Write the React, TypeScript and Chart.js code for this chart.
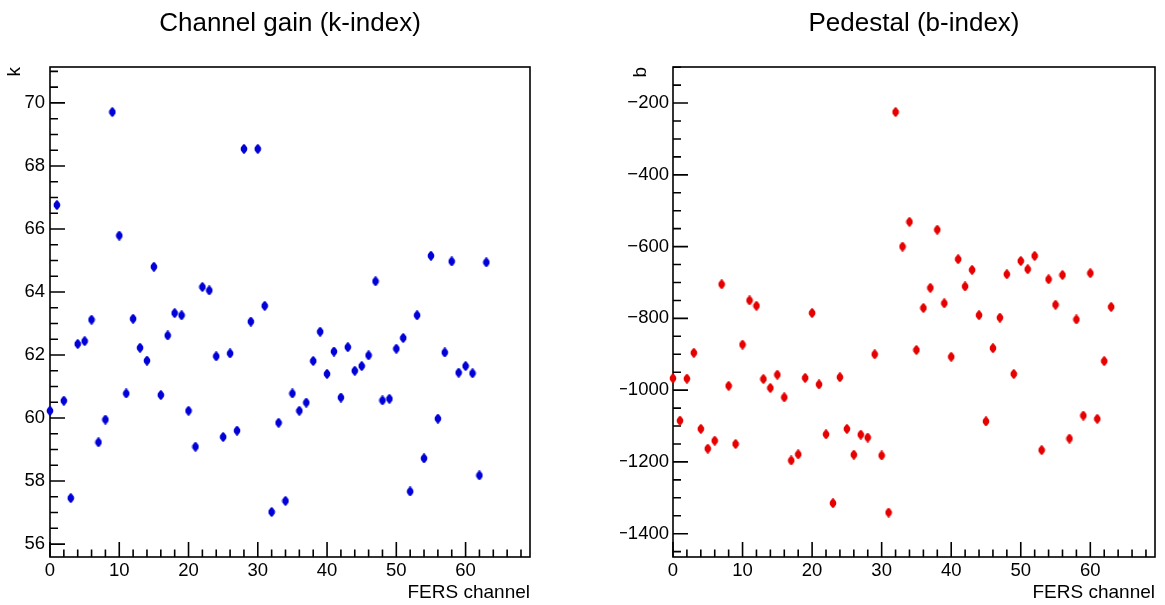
import React, { useEffect, useRef } from 'react';
import { Chart, registerables } from 'chart.js';

Chart.register(...registerables);

const CHANNELS = [
  0, 1, 2, 3, 4, 5, 6, 7, 8, 9, 10, 11, 12, 13, 14, 15, 16, 17, 18, 19, 20, 21, 22, 23, 24, 25, 26, 27, 28, 29, 30, 31,
  32, 33, 34, 35, 36, 37, 38, 39, 40, 41, 42, 43, 44, 45, 46, 47, 48, 49, 50, 51, 52, 53, 54, 55, 56, 57, 58, 59, 60, 61, 62, 63,
];

const K_VALUES = [
  60.23, 66.76, 60.55, 57.46, 62.35, 62.44, 63.12, 59.23, 59.95, 69.71,
  65.79, 60.78, 63.15, 62.23, 61.82, 64.8, 60.73, 62.62, 63.33, 63.26,
  60.23, 59.09, 64.16, 64.05, 61.96, 59.4, 62.05, 59.6, 68.54, 63.06,
  68.54, 63.56, 57.02, 59.85, 57.37, 60.78, 60.23, 60.49, 61.81, 62.74,
  61.4, 62.11, 60.65, 62.25, 61.5, 61.65, 61.99, 64.34, 60.56, 60.61,
  62.2, 62.54, 57.67, 63.26, 58.72, 65.15, 59.98, 62.08, 64.97, 61.44,
  61.65, 61.42, 58.18, 64.94,
];

const B_VALUES = [
  -967, -1085, -968, -896, -1108, -1163, -1141, -705, -988, -1150,
  -873, -750, -765, -969, -994, -957, -1020, -1196, -1179, -966,
  -785, -984, -1123, -1315, -964, -1108, -1180, -1124, -1132, -900,
  -1182, -1341, -225, -600, -531, -888, -771, -715, -553, -758,
  -907, -635, -711, -665, -791, -1087, -883, -798, -677, -955,
  -640, -663, -626, -1167, -691, -762, -679, -1135, -803, -1071,
  -674, -1080, -919, -768,
];

const X_TICKS = [0, 10, 20, 30, 40, 50, 60];
const K_TICKS = [56, 58, 60, 62, 64, 66, 68, 70];
const B_TICKS = [-1400, -1200, -1000, -800, -600, -400, -200];

const FONT = "'Liberation Sans', Arial, Helvetica, sans-serif";

function fmt(v: number | string): string {
  return String(v).replace('-', '\u2212');
}

function makeMarker(color: string): HTMLCanvasElement {
  const c = document.createElement('canvas');
  c.width = 8;
  c.height = 10;
  const g = c.getContext('2d')!;
  g.fillStyle = color;
  g.beginPath();
  g.arc(4, 5, 3.3, 0, Math.PI * 2);
  g.fill();
  g.beginPath();
  g.ellipse(4, 5, 2.2, 4.8, 0, 0, Math.PI * 2);
  g.fill();
  return c;
}

const framePlugin = {
  id: 'rootFrame',
  beforeDatasetsDraw(chart: any, _args: any, opts: any) {
    const { ctx, chartArea: a, scales } = chart;
    const x = scales.x;
    const y = scales.y;
    ctx.save();
    ctx.strokeStyle = '#000';
    ctx.lineWidth = 1.6;
    ctx.strokeRect(a.left, a.top, a.right - a.left, a.bottom - a.top);
    ctx.beginPath();
    const xs = Math.ceil(x.min / opts.xMinor - 1e-9);
    for (let i = xs; i * opts.xMinor <= x.max + 1e-9; i++) {
      const v = i * opts.xMinor;
      const px = x.getPixelForValue(v);
      const r = v / opts.xMajor;
      const major = Math.abs(r - Math.round(r)) < 1e-6;
      const len = major ? 15 : 7.5;
      ctx.moveTo(px, a.bottom);
      ctx.lineTo(px, a.bottom - len);
    }
    const ys = Math.ceil(y.min / opts.yMinor - 1e-9);
    for (let i = ys; i * opts.yMinor <= y.max + 1e-9; i++) {
      const v = i * opts.yMinor;
      const py = y.getPixelForValue(v);
      const r = v / opts.yMajor;
      const major = Math.abs(r - Math.round(r)) < 1e-6;
      const len = major ? 15 : 8;
      ctx.moveTo(a.left, py);
      ctx.lineTo(a.left + len, py);
    }
    ctx.stroke();
    ctx.restore();
  },
};

interface PanelCfg {
  values: number[];
  color: string;
  title: string;
  yTitle: string;
  yTicks: number[];
  yMin: number;
  yMax: number;
  yMinor: number;
  yMajor: number;
  yAxisWidth: number;
  padRight: number;
  yTitlePad: number;
  yTickPad: number;
}

function buildConfig(p: PanelCfg): any {
  const marker = makeMarker(p.color);
  return {
    type: 'scatter',
    data: {
      datasets: [
        {
          data: CHANNELS.map((c, i) => ({ x: c, y: p.values[i] })),
          pointStyle: marker,
          pointRadius: 4,
          pointHoverRadius: 4,
          backgroundColor: p.color,
          borderColor: p.color,
          clip: false,
        },
      ],
    },
    plugins: [framePlugin],
    options: {
      responsive: false,
      animation: false,
      events: [],
      layout: { padding: { left: 0, right: p.padRight, top: 0, bottom: 0 } },
      plugins: {
        legend: { display: false },
        tooltip: { enabled: false },
        title: {
          display: true,
          text: p.title,
          fullSize: false,
          align: 'center',
          color: '#000',
          font: { family: FONT, size: 26, weight: 'normal', lineHeight: 1.2 },
          padding: { top: 8.4, bottom: 27.4 },
        },
        rootFrame: { xMinor: 2, xMajor: 10, yMinor: p.yMinor, yMajor: p.yMajor },
      },
      scales: {
        x: {
          type: 'linear',
          min: 0,
          max: 69.3,
          grid: { display: false, drawTicks: false },
          border: { display: false },
          afterBuildTicks: (s: any) => {
            s.ticks = X_TICKS.map((v) => ({ value: v }));
          },
          afterFit: (s: any) => {
            s.height = 48;
          },
          ticks: {
            autoSkip: false,
            maxRotation: 0,
            minRotation: 0,
            padding: 3,
            color: '#000',
            font: { family: FONT, size: 18.5 },
            callback: (v: any) => fmt(v),
          },
          title: {
            display: true,
            text: 'FERS channel',
            align: 'end',
            color: '#000',
            font: { family: FONT, size: 19, lineHeight: 1.2 },
            padding: { top: 0, bottom: 1 },
          },
        },
        y: {
          type: 'linear',
          min: p.yMin,
          max: p.yMax,
          grid: { display: false, drawTicks: false },
          border: { display: false },
          afterBuildTicks: (s: any) => {
            s.ticks = p.yTicks.map((v) => ({ value: v }));
          },
          afterFit: (s: any) => {
            s.width = p.yAxisWidth;
          },
          ticks: {
            autoSkip: false,
            padding: p.yTickPad,
            color: '#000',
            font: { family: FONT, size: 18.5 },
            callback: (v: any) => fmt(v),
          },
          title: {
            display: true,
            text: p.yTitle,
            align: 'end',
            color: '#000',
            font: { family: FONT, size: 19, lineHeight: 1.2 },
            padding: { top: p.yTitlePad, bottom: 0 },
          },
        },
      },
    },
  };
}

function Panel({ cfg, left, width }: { cfg: PanelCfg; left: number; width: number }) {
  const ref = useRef<HTMLCanvasElement | null>(null);
  useEffect(() => {
    if (!ref.current) return;
    const chart = new Chart(ref.current, buildConfig(cfg));
    return () => chart.destroy();
  }, []);
  return (
    <canvas
      ref={ref}
      width={width}
      height={605}
      style={{ position: 'absolute', left, top: 0, width, height: 605 }}
    />
  );
}

const LEFT_PANEL: PanelCfg = {
  values: K_VALUES,
  color: '#0000d8',
  title: 'Channel gain (k-index)',
  yTitle: 'k',
  yTicks: K_TICKS,
  yMin: 55.59,
  yMax: 71.14,
  yMinor: 0.5,
  yMajor: 2,
  yAxisWidth: 50,
  padRight: 52,
  yTitlePad: 3.6,
  yTickPad: 5,
};

const RIGHT_PANEL: PanelCfg = {
  values: B_VALUES,
  color: '#e60000',
  title: 'Pedestal (b-index)',
  yTitle: 'b',
  yTicks: B_TICKS,
  yMin: -1465,
  yMax: -99.5,
  yMinor: 50,
  yMajor: 200,
  yAxisWidth: 53,
  padRight: 10,
  yTitlePad: 9,
  yTickPad: 4,
};

export default function App() {
  return (
    <div
      style={{
        position: 'fixed',
        left: 0,
        top: 0,
        width: 1165,
        height: 605,
        background: '#fff',
        overflow: 'hidden',
      }}
    >
      <Panel cfg={LEFT_PANEL} left={0} width={582} />
      <Panel cfg={RIGHT_PANEL} left={620} width={545} />
    </div>
  );
}
